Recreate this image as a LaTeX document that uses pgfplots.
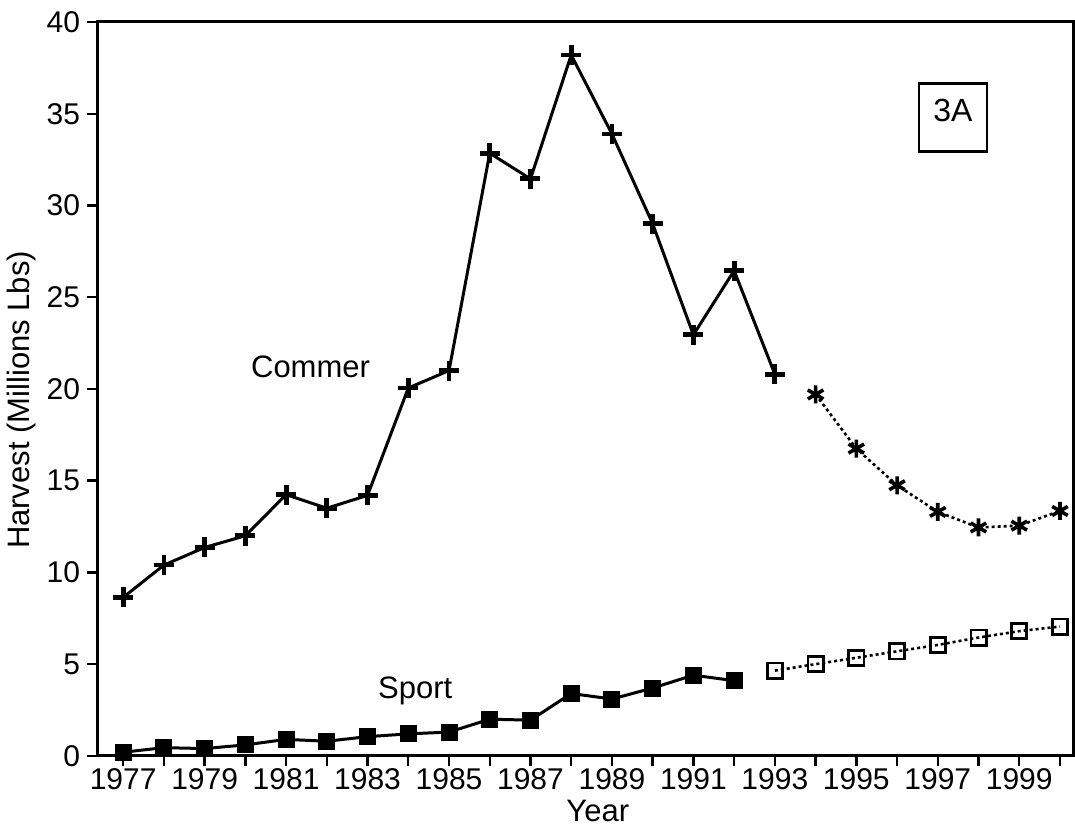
\documentclass[border=0pt]{standalone}
\usepackage{pgfplots}
\pgfplotsset{compat=1.18}
\usepackage{fontspec}
\setmainfont{Liberation Sans}
\begin{document}
\begin{tikzpicture}
\begin{axis}[
  scale only axis, width=488pt, height=367pt,
  xmin=1976.36, xmax=2000.32, ymin=0, ymax=40,
  xtick={1977,1979,...,1999}, minor xtick={1978,1980,...,2000},
  ytick={0,5,...,40},
  tick align=outside, tick pos=left,
  major tick length=5pt, minor tick length=5pt,
  /pgf/number format/1000 sep={},
  /pgf/number format/assume math mode=true,
  tick label style={font=\fontsize{15}{15}\selectfont},
  xticklabel style={inner sep=1pt},
  axis line style={line width=1.5pt},
  every tick/.style={line width=1.2pt, black},
  xlabel={Year}, ylabel={Harvest (Millions Lbs)},
  label style={font=\fontsize{15.5}{18}\selectfont},
  xlabel style={at={(axis description cs:0.513,-0.0891)}, anchor=base, inner sep=1pt},
  ylabel style={at={(axis description cs:-0.0779,0.485)}, anchor=center},
  clip=false,
]
% Commercial (observed)
\addplot[line width=1.5pt, mark=+, mark size=5pt, mark options={line width=2.4pt}] coordinates {
(1977,8.64) (1978,10.4) (1979,11.36) (1980,12.0) (1981,14.24) (1982,13.5)
(1983,14.2) (1984,20.05) (1985,21.0) (1986,32.85) (1987,31.45) (1988,38.2)
(1989,33.9) (1990,29.0) (1991,22.95) (1992,26.45) (1993,20.8)};
% Commercial (projected)
\addplot[line width=1.3pt, dash pattern=on 1.5pt off 1.5pt, mark=asterisk, mark size=4.5pt, mark options={solid, line width=1.8pt}] coordinates {
(1994,19.7) (1995,16.75) (1996,14.75) (1997,13.3) (1998,12.45) (1999,12.55) (2000,13.35)};
% Sport (observed)
\addplot[line width=1.5pt, mark=square*, mark size=3.5pt] coordinates {
(1977,0.2) (1978,0.45) (1979,0.4) (1980,0.6) (1981,0.9) (1982,0.8)
(1983,1.05) (1984,1.2) (1985,1.3) (1986,2.0) (1987,1.95) (1988,3.4)
(1989,3.1) (1990,3.7) (1991,4.4) (1992,4.1)};
% Sport (projected)
\addplot[line width=1.3pt, dash pattern=on 1.5pt off 1.5pt, mark=square, mark size=3.8pt, mark options={solid, line width=1.4pt, fill=white}] coordinates {
(1993,4.65) (1994,5.0) (1995,5.35) (1996,5.7) (1997,6.05) (1998,6.45) (1999,6.8) (2000,7.05)};
\node[font=\fontsize{15.5}{18}\selectfont] at (axis cs:1981.6,21.2) {Commer};
\node[font=\fontsize{15.5}{18}\selectfont] at (axis cs:1984.17,3.55) {Sport};
\node[draw, line width=1.3pt, minimum width=34pt, minimum height=34pt] at (axis cs:1997.37,34.8) {};
\node[font=\fontsize{16}{18}\selectfont] at (axis cs:1997.37,35.15) {3A};
% page margins as in the reference
\path (rel axis cs:0,1) ++(-48.5pt,11pt);
\path (rel axis cs:1,0) ++(1pt,-37.5pt);
\end{axis}
\end{tikzpicture}
\end{document}
